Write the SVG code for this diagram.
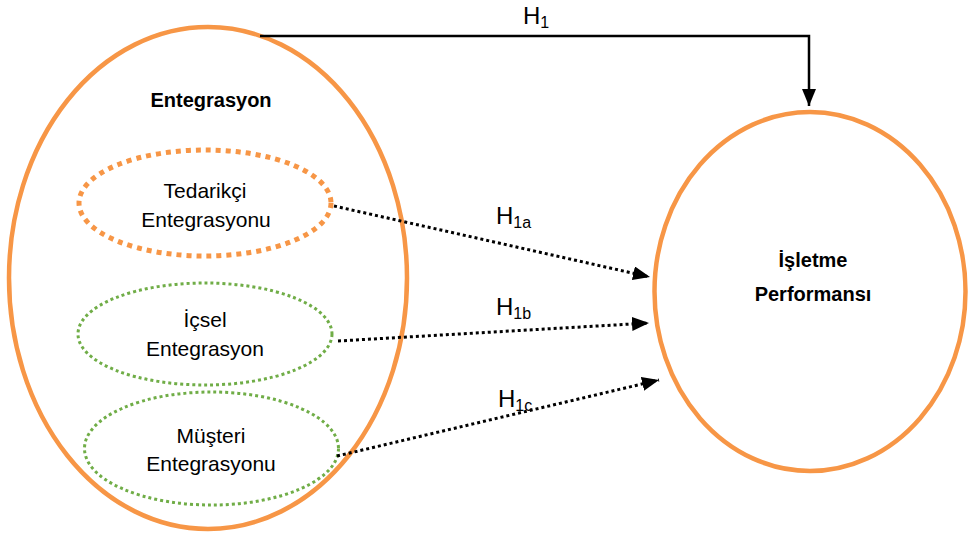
<svg xmlns="http://www.w3.org/2000/svg" width="968" height="533" viewBox="0 0 968 533">
  <style>
    .bg { fill: #ffffff; }
    .outer { fill: none; stroke: #F79646; stroke-width: 4.5; }
    .sub-orange { fill: none; stroke: #F79646; stroke-width: 5; stroke-dasharray: 5 5; }
    .sub-green { fill: none; stroke: #70AD47; stroke-width: 3; stroke-dasharray: 3 3; }
    .label { font-family: "Liberation Sans", Arial, sans-serif; font-size: 21px; fill: #000; text-anchor: middle; }
    .title { font-family: "Liberation Sans", Arial, sans-serif; font-size: 20px; font-weight: bold; fill: #000; text-anchor: middle; }
    .hyp { font-family: "Liberation Sans", Arial, sans-serif; font-size: 24px; fill: #000; }
    .hyp tspan { font-size: 16px; }
    .solid { fill: none; stroke: #000; stroke-width: 2.5; }
    .dotted { fill: none; stroke: #000; stroke-width: 3; stroke-dasharray: 3 3; }
  </style>
  <defs>
    <marker id="arrow" markerUnits="userSpaceOnUse" markerWidth="18" markerHeight="14" refX="17" refY="7" orient="auto">
      <path d="M0,0 L17,7 L0,14 z" fill="#000"/>
    </marker>
  </defs>

  <rect class="bg" x="0" y="0" width="968" height="533"/>

  <!-- Integration construct with its three dimensions -->
  <g id="entegrasyon">
    <ellipse class="outer" cx="208" cy="278" rx="199" ry="251"/>
    <text class="title" x="211" y="107">Entegrasyon</text>
  </g>

  <g id="tedarikci">
    <ellipse class="sub-orange" cx="205" cy="203" rx="126" ry="53"/>
    <text class="label" x="205" y="198">Tedarikçi</text>
    <text class="label" x="206" y="227">Entegrasyonu</text>
  </g>

  <g id="icsel">
    <ellipse class="sub-green" cx="205" cy="334" rx="127" ry="51"/>
    <text class="label" x="205" y="327">İçsel</text>
    <text class="label" x="205" y="356">Entegrasyon</text>
  </g>

  <g id="musteri">
    <ellipse class="sub-green" cx="211.5" cy="448.5" rx="127" ry="56.5"/>
    <text class="label" x="211" y="443">Müşteri</text>
    <text class="label" x="211" y="471">Entegrasyonu</text>
  </g>

  <!-- Firm performance -->
  <g id="performans">
    <ellipse class="outer" cx="810" cy="291.5" rx="155.5" ry="179.5"/>
    <text class="title" x="813" y="267">İşletme</text>
    <text class="title" x="813" y="301">Performansı</text>
  </g>

  <!-- Hypothesised paths -->
  <g id="connectors">
    <path class="solid" d="M260,36 H809 V106" marker-end="url(#arrow)"/>
    <text class="hyp" x="523" y="24">H<tspan dy="4">1</tspan></text>

    <line class="dotted" x1="334" y1="206" x2="650" y2="277" marker-end="url(#arrow)"/>
    <text class="hyp" x="496" y="224">H<tspan dy="4">1a</tspan></text>

    <line class="dotted" x1="338" y1="341" x2="649" y2="323" marker-end="url(#arrow)"/>
    <text class="hyp" x="496" y="315">H<tspan dy="4">1b</tspan></text>

    <line class="dotted" x1="337" y1="456" x2="659" y2="380" marker-end="url(#arrow)"/>
    <text class="hyp" x="498" y="407">H<tspan dy="4">1c</tspan></text>
  </g>
</svg>
